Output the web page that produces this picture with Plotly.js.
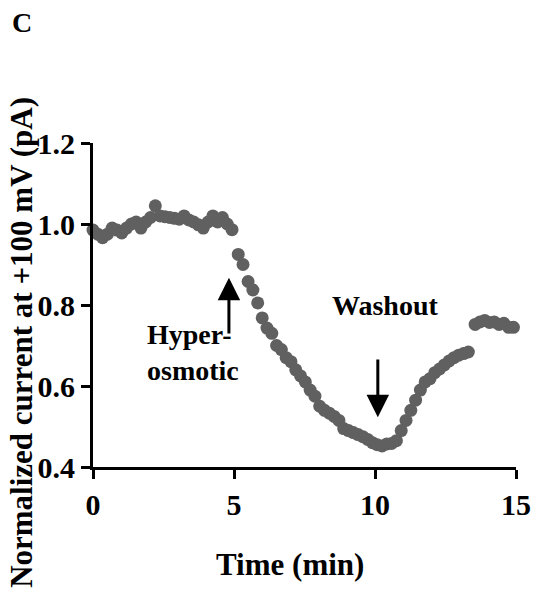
<!DOCTYPE html>
<html>
<head>
<meta charset="utf-8">
<script src="https://cdn.plot.ly/plotly-3.0.1.min.js"></script>
<style>html,body{margin:0;padding:0;background:#fff;}#chart{width:536px;height:599px;}</style>
</head>
<body>
<div id="chart"></div>
<script>
// Time (min)
var timeMin = [
  0.00, 0.17, 0.34, 0.51, 0.68, 0.85, 1.02, 1.19, 1.36, 1.53,
  1.70, 1.87, 2.04, 2.21, 2.38, 2.55, 2.72, 2.89, 3.06, 3.23,
  3.40, 3.57, 3.74, 3.91, 4.08, 4.25, 4.42, 4.59, 4.76, 4.93,
  5.15, 5.32, 5.50, 5.67, 5.84, 6.00, 6.17, 6.34, 6.51, 6.68,
  6.85, 7.02, 7.19, 7.36, 7.53, 7.70, 7.87, 8.04, 8.21, 8.38,
  8.55, 8.72, 8.89, 9.06, 9.23, 9.40, 9.57, 9.74, 9.91, 10.08,
  10.25, 10.42, 10.59, 10.76, 10.93, 11.10, 11.27, 11.44, 11.61, 11.78,
  11.95, 12.12, 12.29, 12.46, 12.63, 12.80, 12.97, 13.14, 13.31,
  13.55, 13.72, 13.89, 14.06, 14.23, 14.40, 14.57, 14.74, 14.91, 15.08, 15.25
];
// Normalized current at +100 mV
var normCurrent = [
  0.985, 0.975, 0.966, 0.975, 0.990, 0.985, 0.978, 0.990, 1.000, 1.005,
  0.990, 1.005, 1.016, 1.045, 1.020, 1.018, 1.016, 1.014, 1.012, 1.020,
  1.010, 1.005, 0.998, 0.990, 1.005, 1.020, 1.005, 1.016, 1.000, 0.986,
  0.925, 0.900, 0.858, 0.837, 0.805, 0.768, 0.743, 0.730, 0.700, 0.690,
  0.670, 0.660, 0.640, 0.625, 0.610, 0.590, 0.575, 0.550, 0.540, 0.533,
  0.525, 0.515, 0.495, 0.490, 0.485, 0.480, 0.475, 0.468, 0.460, 0.455,
  0.452, 0.457, 0.458, 0.465, 0.490, 0.515, 0.540, 0.565, 0.590, 0.610,
  0.618, 0.633, 0.642, 0.652, 0.662, 0.670, 0.676, 0.680, 0.684,
  0.752, 0.758, 0.762, 0.757, 0.758, 0.752, 0.755, 0.745, 0.745, 0.742, 0.743
];
var xTicks = [0, 5, 10, 15];
var yTicks = [0.4, 0.6, 0.8, 1.0, 1.2];
var yTickText = ["0.4", "0.6", "0.8", "1.0", "1.2"];

var serif = '"Liberation Serif", "Times New Roman", Times, serif';
function sfont(sz) { return {family: serif, size: sz, color: "#000", weight: "bold"}; }

var trace = {
  x: timeMin, y: normCurrent, type: "scatter", mode: "markers",
  marker: {color: "#606060", size: 13},
  cliponaxis: false, hoverinfo: "skip"
};

var layout = {
  width: 536, height: 599,
  margin: {l: 93, r: 20, t: 143, b: 132, pad: 0},
  paper_bgcolor: "#fff", plot_bgcolor: "#fff",
  showlegend: false,
  font: {family: serif, color: "#000"},
  xaxis: {
    range: [0, 15], tickvals: xTicks, ticktext: xTicks.map(String),
    showgrid: false, zeroline: false, showline: true, linecolor: "#000", linewidth: 3,
    ticks: "outside", ticklen: 9, tickwidth: 3, tickcolor: "#000",
    tickfont: sfont(30)
  },
  yaxis: {
    range: [0.4, 1.2], tickvals: yTicks, ticktext: yTickText,
    showgrid: false, zeroline: false, showline: true, linecolor: "#000", linewidth: 3,
    ticks: "outside", ticklen: 9, tickwidth: 3, tickcolor: "#000",
    tickfont: sfont(30)
  },
  annotations: [
    {xref: "paper", yref: "paper", x: -0.168, y: 1.373, xanchor: "center", yanchor: "middle",
     text: "C", showarrow: false, font: sfont(28)},
    {xref: "paper", yref: "paper", x: 0.466, y: -0.302, xanchor: "center", yanchor: "middle",
     text: "Time (min)", showarrow: false, font: sfont(31)},
    {xref: "paper", yref: "paper", x: -0.168, y: 0.386, xanchor: "center", yanchor: "middle",
     text: "Normalized current at +100 mV (pA)", textangle: -90, showarrow: false, font: sfont(31)},
    {xref: "x", yref: "y", x: 4.82, y: 0.867, ax: 4.82, ay: 0.726, axref: "x", ayref: "y",
     showarrow: true, arrowhead: 2, arrowsize: 1.5, arrowwidth: 3, arrowcolor: "#000", text: ""},
    {xref: "x", yref: "y", x: 1.85, y: 0.682, xanchor: "left", yanchor: "middle",
     text: "Hyper-<br>osmotic", showarrow: false, align: "left", font: sfont(28)},
    {xref: "x", yref: "y", x: 10.1, y: 0.523, ax: 10.1, ay: 0.669, axref: "x", ayref: "y",
     showarrow: true, arrowhead: 2, arrowsize: 1.5, arrowwidth: 3, arrowcolor: "#000", text: ""},
    {xref: "x", yref: "y", x: 10.35, y: 0.80, xanchor: "center", yanchor: "middle",
     text: "Washout", showarrow: false, font: sfont(28)}
  ]
};

Plotly.newPlot("chart", [trace], layout, {staticPlot: true, displayModeBar: false});
</script>
</body>
</html>
